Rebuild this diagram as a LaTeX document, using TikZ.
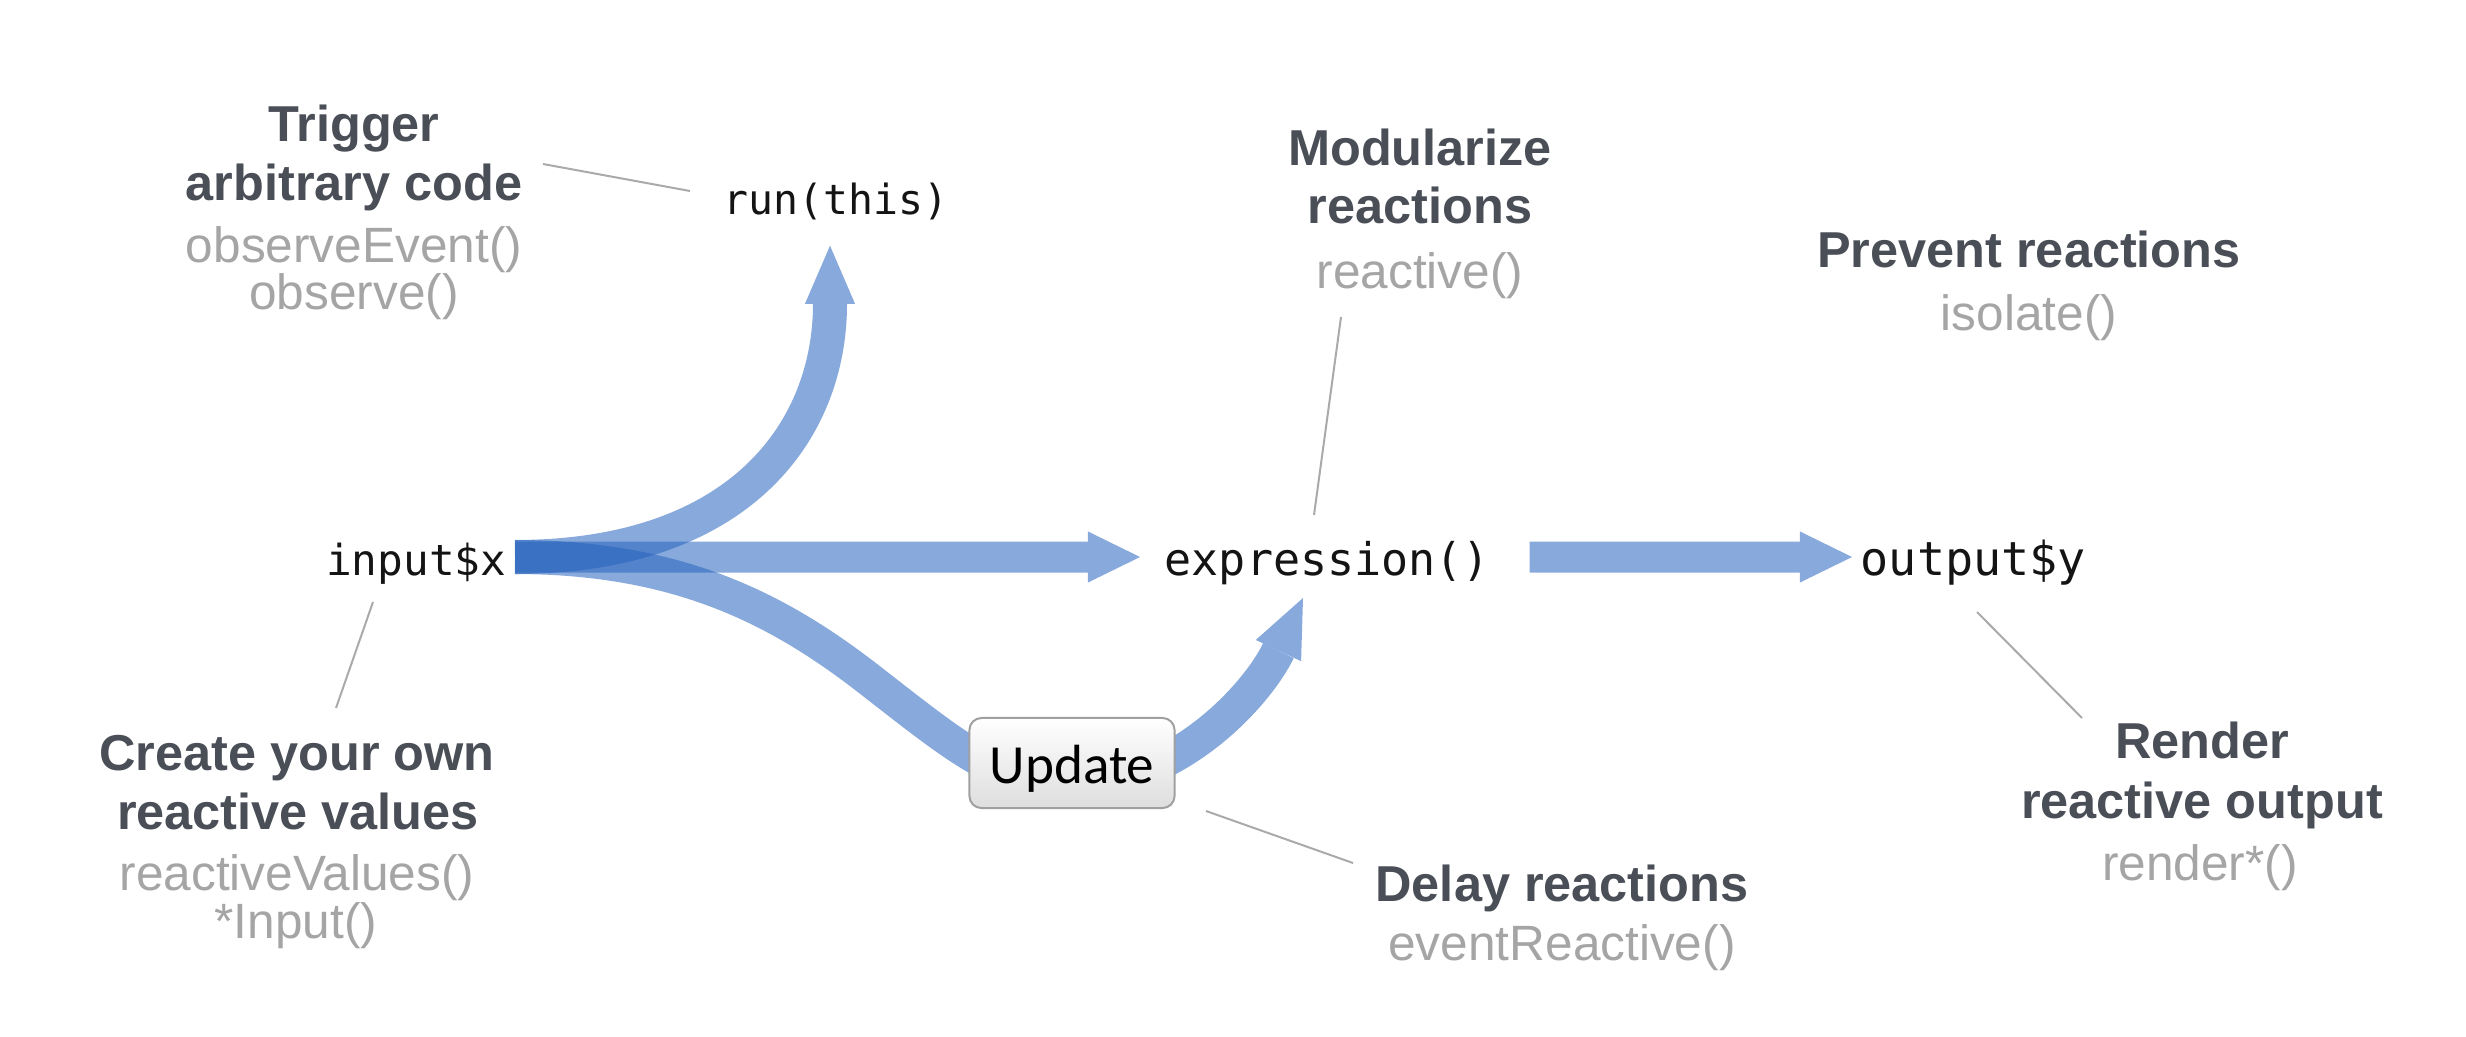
\documentclass[tikz,border=0pt]{standalone}
\usepackage{fontspec}
\setmainfont{Liberation Sans}
\newfontfamily\monofont{DejaVu Sans Mono}
\newfontfamily\btnfont{Carlito}
\usetikzlibrary{arrows.meta,calc}
\definecolor{headc}{RGB}{74,78,87}
\definecolor{funcc}{RGB}{165,165,165}
\definecolor{leadc}{RGB}{170,170,170}
\definecolor{flowc}{RGB}{40,100,190}
\definecolor{btnline}{RGB}{160,160,160}
\begin{document}
\begin{tikzpicture}[x=0.01cm,y=-0.01cm,
  head/.style={font=\bfseries\fontsize{14.35}{17}\selectfont, text=headc, anchor=base, inner sep=0pt},
  func/.style={font=\fontsize{14.1}{17}\selectfont, text=funcc, anchor=base, inner sep=0pt},
  code/.style={inner sep=0pt, text height=0.42cm, text depth=0.06cm, text=black!92},
  leader/.style={draw=leadc, line width=0.02cm},
  straightflow/.style={draw=flowc, line width=0.31cm, -{Triangle[length=0.52cm,width=0.51cm,line width=0pt]}},
  curveflow/.style={draw=flowc, line width=0.34cm, -{Triangle[length=0.58cm,width=0.5cm,line width=0pt]}},
  button/.style={draw=btnline, line width=0.02cm, rounded corners=0.12cm, minimum width=2.05cm, minimum height=0.9cm, top color=white, bottom color=black!13, inner sep=0pt, text height=0.4cm, text depth=0cm, font=\btnfont\fontsize{15.7}{18}\selectfont}
]
\useasboundingbox[fill=white] (0,0) rectangle (2466,1036);

% code nodes
\node[code, font=\monofont\fontsize{11.8}{14}\selectfont] (run) at (836,196) {run(this)};
\node[code, font=\monofont\fontsize{12.15}{14}\selectfont, anchor=east] (input) at (507,557) {input\$x};
\node[code, font=\monofont\fontsize{12.8}{15}\selectfont, anchor=west] (expr) at (1164,557) {expression()};
\node[code, font=\monofont\fontsize{13.3}{15}\selectfont, anchor=west] (output) at (1860,557) {output\$y};

% labels
\node[head] (trigA) at (354,141) {Trigger};
\node[head] (trigB) at (354,200) {arbitrary code};
\node[func] (trigC) at (354,262) {observeEvent()};
\node[func] (trigD) at (354,309) {observe()};

\node[head] (modA) at (1420,165) {Modularize};
\node[head] (modB) at (1420,223) {reactions};
\node[func] (modC) at (1420,288) {reactive()};

\node[head] (prevA) at (2029,267) {Prevent reactions};
\node[func] (prevB) at (2029,330) {isolate()};

\node[head] (crA) at (297,770) {Create your own};
\node[head] (crB) at (298,829) {reactive values};
\node[func] (crC) at (297,890) {reactiveValues()};
\node[func] (crD) at (296,938) {*Input()};

\node[head] (delA) at (1562,901) {Delay reactions};
\node[func] (delB) at (1562,960) {eventReactive()};

\node[head] (renA) at (2202,758) {Render};
\node[head] (renB) at (2202,818) {reactive output};
\node[func] (renC) at (2200,880) {render*()};

% leader lines
\coordinate (l1a) at (543,164); \coordinate (l1b) at (690,191);
\coordinate (l2a) at (1341,317); \coordinate (l2b) at (1314,515);
\coordinate (l3a) at (373,602); \coordinate (l3b) at (336,708);
\coordinate (l4a) at (1206,811); \coordinate (l4b) at (1353,863);
\coordinate (l5a) at (1977,612); \coordinate (l5b) at (2082,718);
\draw[leader] (l1a) -- (l1b);
\draw[leader] (l2a) -- (l2b);
\draw[leader] (l3a) -- (l3b);
\draw[leader] (l4a) -- (l4b);
\draw[leader] (l5a) -- (l5b);

% flows
\coordinate (updc) at (1072,763);
\begin{scope}[transparency group, opacity=0.55]
\draw[curveflow] ($(input.east)+(8,0)$) .. controls +(225,0) and +(0,185) .. ($(run.south)+(-6,25)$);
\end{scope}
\begin{scope}[transparency group, opacity=0.55]
\draw[straightflow] ($(input.east)+(8,0)$) -- ($(expr.west)+(-24,0)$);
\end{scope}
\begin{scope}[transparency group, opacity=0.55]
\draw[curveflow] ($(input.east)+(8,0)$) .. controls +(165,0) and +(-90,-70) .. ($(updc)+(-202,-83)$)
  .. controls +(90,70) and +(-72,0) .. ($(updc)+(0,21)$)
  .. controls +(108,0) and +(-43,92) .. ($(expr.west)+(139,41)$);
\end{scope}
\begin{scope}[transparency group, opacity=0.55]
\draw[straightflow] ($(expr.east)+(39,0)$) -- ($(output.west)+(-8,0)$);
\end{scope}

\node[button] (update) at (updc) {Update};
\end{tikzpicture}
\end{document}
